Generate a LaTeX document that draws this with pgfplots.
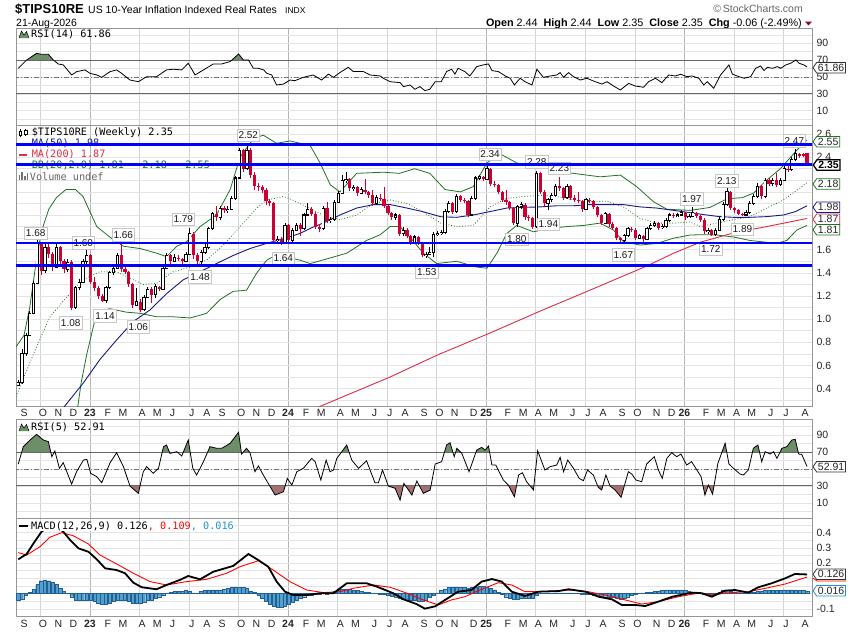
\documentclass[border=0pt]{standalone}
\usepackage{fontspec}
\setmainfont{Liberation Sans}
\newfontfamily\monof{DejaVu Sans Mono}
\usepackage{pgfplots}
\pgfplotsset{compat=1.18}
\usepackage{pgfplotstable}
\usetikzlibrary{shapes.symbols}

\definecolor{cred}{RGB}{204,0,51}
\definecolor{cnavy}{RGB}{25,25,135}
\definecolor{cma200}{RGB}{222,45,70}
\definecolor{cbb}{RGB}{34,115,34}
\definecolor{cgrid}{RGB}{228,228,228}
\definecolor{cqgrid}{RGB}{212,212,212}
\definecolor{cygrid}{RGB}{180,180,180}
\definecolor{cframe}{RGB}{150,150,150}
\definecolor{rsigreen}{RGB}{110,142,105}
\definecolor{rsired}{RGB}{165,112,112}
\definecolor{histfill}{RGB}{82,160,205}
\definecolor{histedge}{RGB}{35,95,145}
\definecolor{cblue}{RGB}{0,0,255}
\definecolor{macdblue}{RGB}{30,150,205}
\definecolor{cmaroon}{RGB}{150,0,50}

\pgfplotstableread{
i o h l c
0 0.43 0.47 0.42 0.45
1 0.45 0.74 0.44 0.70
2 0.70 0.88 0.68 0.86
3 0.86 1.07 0.85 1.05
4 1.05 1.33 1.04 1.31
5 1.31 1.68 1.30 1.65
6 1.65 1.67 1.38 1.42
7 1.42 1.65 1.40 1.62
8 1.62 1.65 1.53 1.56
9 1.56 1.58 1.42 1.45
10 1.45 1.66 1.44 1.62
11 1.62 1.63 1.47 1.50
12 1.50 1.52 1.40 1.43
13 1.43 1.52 1.41 1.49
14 1.49 1.51 1.08 1.10
15 1.10 1.29 1.09 1.27
16 1.27 1.35 1.25 1.32
17 1.32 1.52 1.31 1.50
18 1.50 1.60 1.48 1.55
19 1.55 1.56 1.30 1.32
20 1.32 1.36 1.24 1.27
21 1.27 1.29 1.17 1.20
22 1.20 1.22 1.15 1.16
23 1.16 1.29 1.14 1.27
24 1.27 1.42 1.26 1.40
25 1.40 1.47 1.38 1.44
26 1.44 1.57 1.43 1.55
27 1.55 1.66 1.41 1.43
28 1.43 1.46 1.39 1.41
29 1.41 1.42 1.28 1.30
30 1.30 1.31 1.10 1.12
31 1.12 1.27 1.11 1.15
32 1.15 1.17 1.06 1.08
33 1.08 1.21 1.07 1.19
34 1.19 1.28 1.18 1.26
35 1.26 1.28 1.14 1.21
36 1.21 1.30 1.18 1.28
37 1.28 1.29 1.24 1.26
38 1.26 1.46 1.25 1.44
39 1.44 1.57 1.43 1.55
40 1.55 1.56 1.47 1.50
41 1.50 1.56 1.49 1.53
42 1.53 1.55 1.50 1.52
43 1.52 1.53 1.48 1.50
44 1.50 1.58 1.49 1.56
45 1.56 1.79 1.55 1.74
46 1.74 1.75 1.52 1.55
47 1.55 1.57 1.48 1.50
48 1.50 1.60 1.48 1.58
49 1.58 1.65 1.56 1.62
50 1.62 1.80 1.61 1.78
51 1.78 1.93 1.77 1.91
52 1.91 1.98 1.85 1.88
53 1.88 1.98 1.86 1.96
54 1.96 1.98 1.92 1.94
55 1.94 1.98 1.92 1.95
56 1.95 2.06 1.94 2.04
57 2.04 2.24 2.03 2.22
58 2.22 2.48 2.21 2.46
59 2.46 2.47 2.27 2.30
60 2.30 2.52 2.29 2.46
61 2.46 2.48 2.22 2.25
62 2.25 2.27 2.12 2.15
63 2.15 2.18 2.11 2.14
64 2.14 2.16 2.09 2.12
65 2.12 2.13 1.99 2.02
66 2.02 2.04 1.98 2.00
67 2.00 2.01 1.66 1.68
68 1.68 1.72 1.66 1.69
69 1.69 1.71 1.64 1.66
70 1.66 1.83 1.65 1.81
71 1.81 1.82 1.66 1.68
72 1.68 1.79 1.67 1.77
73 1.77 1.83 1.76 1.81
74 1.81 1.83 1.72 1.78
75 1.78 1.92 1.77 1.90
76 1.90 2.00 1.89 1.95
77 1.95 1.97 1.89 1.91
78 1.91 1.93 1.78 1.80
79 1.80 1.82 1.75 1.78
80 1.78 1.98 1.77 1.96
81 1.96 2.01 1.83 1.85
82 1.85 1.88 1.83 1.86
83 1.86 2.03 1.85 2.01
84 2.01 2.11 2.00 2.09
85 2.09 2.25 2.08 2.20
86 2.20 2.27 2.18 2.21
87 2.21 2.22 2.11 2.13
88 2.13 2.16 2.11 2.14
89 2.14 2.15 2.06 2.09
90 2.09 2.14 2.08 2.12
91 2.12 2.21 2.08 2.10
92 2.10 2.11 2.05 2.07
93 2.07 2.12 1.98 2.00
94 2.00 2.07 1.99 2.05
95 2.05 2.08 2.02 2.04
96 2.04 2.14 1.96 1.98
97 1.98 1.99 1.90 1.92
98 1.92 1.93 1.86 1.88
99 1.88 1.92 1.86 1.90
100 1.90 1.91 1.72 1.74
101 1.74 1.80 1.72 1.77
102 1.77 1.79 1.70 1.72
103 1.72 1.73 1.64 1.66
104 1.66 1.73 1.65 1.71
105 1.71 1.72 1.64 1.66
106 1.66 1.67 1.54 1.55
107 1.55 1.58 1.53 1.56
108 1.56 1.62 1.55 1.58
109 1.58 1.75 1.54 1.73
110 1.73 1.76 1.72 1.74
111 1.74 1.77 1.73 1.75
112 1.75 1.95 1.74 1.93
113 1.93 2.02 1.92 2.00
114 2.00 2.01 1.91 1.93
115 1.93 2.08 1.92 2.06
116 2.06 2.07 2.01 2.03
117 2.03 2.05 2.00 2.02
118 2.02 2.03 1.88 1.90
119 1.90 2.06 1.89 2.04
120 2.04 2.24 2.03 2.22
121 2.22 2.25 2.20 2.23
122 2.23 2.24 2.19 2.21
123 2.21 2.34 2.20 2.30
124 2.30 2.31 2.15 2.17
125 2.17 2.19 2.14 2.16
126 2.16 2.17 2.08 2.10
127 2.10 2.11 2.01 2.03
128 2.03 2.12 1.99 2.01
129 2.01 2.02 1.94 1.96
130 1.96 1.97 1.81 1.83
131 1.83 1.99 1.80 1.97
132 1.97 2.01 1.95 1.99
133 1.99 2.00 1.86 1.88
134 1.88 1.90 1.85 1.87
135 1.87 1.88 1.78 1.80
136 1.80 2.28 1.79 2.26
137 2.26 2.27 2.08 2.10
138 2.10 2.12 1.98 2.00
139 2.00 2.05 1.94 2.03
140 2.03 2.09 2.01 2.07
141 2.07 2.17 2.06 2.15
142 2.15 2.23 2.11 2.13
143 2.13 2.14 2.03 2.05
144 2.05 2.17 2.04 2.15
145 2.15 2.16 2.03 2.05
146 2.05 2.07 2.01 2.03
147 2.03 2.10 2.00 2.02
148 2.02 2.03 1.93 1.95
149 1.95 2.05 1.94 2.03
150 2.03 2.05 2.00 2.02
151 2.02 2.03 1.95 1.97
152 1.97 1.98 1.88 1.90
153 1.90 1.91 1.81 1.83
154 1.83 1.93 1.82 1.91
155 1.91 1.92 1.80 1.82
156 1.82 1.84 1.77 1.79
157 1.79 1.80 1.68 1.70
158 1.70 1.71 1.665 1.68
159 1.68 1.74 1.67 1.72
160 1.72 1.80 1.71 1.78
161 1.78 1.80 1.75 1.77
162 1.77 1.79 1.68 1.70
163 1.70 1.74 1.69 1.72
164 1.72 1.73 1.67 1.69
165 1.69 1.80 1.68 1.78
166 1.78 1.83 1.77 1.81
167 1.81 1.85 1.80 1.83
168 1.83 1.84 1.77 1.79
169 1.79 1.82 1.78 1.80
170 1.80 1.87 1.79 1.85
171 1.85 1.92 1.84 1.90
172 1.90 1.92 1.87 1.89
173 1.89 1.92 1.88 1.90
174 1.90 1.94 1.89 1.92
175 1.92 1.93 1.86 1.88
176 1.88 1.91 1.87 1.89
177 1.89 1.97 1.88 1.92
178 1.92 1.93 1.87 1.89
179 1.89 1.90 1.84 1.86
180 1.86 1.87 1.74 1.76
181 1.76 1.79 1.74 1.77
182 1.77 1.78 1.72 1.73
183 1.73 1.79 1.72 1.77
184 1.77 1.88 1.76 1.86
185 1.86 2.01 1.85 1.99
186 1.99 2.13 1.98 2.10
187 2.10 2.11 1.94 1.96
188 1.96 1.97 1.92 1.94
189 1.94 1.95 1.90 1.91
190 1.91 1.92 1.89 1.90
191 1.90 1.94 1.89 1.92
192 1.92 2.02 1.91 2.00
193 2.00 2.08 1.99 2.06
194 2.06 2.18 2.05 2.15
195 2.15 2.16 2.04 2.06
196 2.06 2.22 2.05 2.20
197 2.20 2.22 2.15 2.17
198 2.17 2.22 2.15 2.20
199 2.20 2.26 2.14 2.16
200 2.16 2.22 2.15 2.20
201 2.20 2.32 2.19 2.30
202 2.30 2.33 2.27 2.29
203 2.29 2.40 2.28 2.38
204 2.38 2.47 2.37 2.43
205 2.43 2.44 2.39 2.41
206 2.43 2.44 2.40 2.41
207 2.44 2.44 2.35 2.35
}\candles

\pgfplotstableread{
i v
0 60.3
2.2 70.2
4.8 78.1
6.1 76.9
7.9 76.9
9.2 70.2
10.5 65.4
11.8 64.4
14 52.4
15.3 56.3
17.5 58.4
18.8 54.4
20.6 52.4
21.9 49.6
24.1 56.4
25.8 58.4
27.1 54.4
29.3 46.4
31.5 44.4
33.7 50.4
36.3 50.4
38.9 58.4
40.7 59.2
42.9 58.4
44.6 66.3
46.4 52.4
48.6 58.4
51.2 65.5
53.4 65.5
55.6 68.3
57.8 77.3
59.1 70.2
60.4 70.2
61.7 60.3
63 60.3
64.4 58.4
65.2 54.4
66.5 52.4
67.8 40.5
69.6 41.6
71.3 46.4
72.6 45.6
74.8 49.6
77.4 52.4
79.6 46.4
81.4 53.4
82.7 49.6
84.4 55.2
86.6 61.5
87.9 56.4
90.6 56.4
92.3 52.4
95 51.2
95.8 48.5
97.6 44.4
100.2 43.3
101.1 38.6
102.8 40.5
104.1 35.4
105.4 38.6
106.7 33.8
108 35.4
109.4 44.4
111 44.4
112.4 56.4
113.7 59.2
114.6 53.4
115.4 60.3
117.2 56.4
118.5 51.2
120.3 62.3
122 64.3
123.4 65.5
124.3 57.6
126 56.4
127.8 51.2
129.1 48.5
130.2 40.5
131.7 48.5
133 44.4
134.8 40.5
136.1 59.2
137.8 49.6
139.6 51.2
141.3 52.4
142.2 55.2
143.1 49.6
144.4 55.2
145.7 50.4
147.5 46.4
149.2 48.5
151.4 44.4
153.2 41.6
154.5 44.4
156.2 39.3
158 34.6
160.2 42.4
161.9 39.3
164.1 37.8
165.4 44.4
167.2 48.5
168.9 43.3
170.7 52.4
172.4 51.2
173.8 53.2
175.5 50.4
176.8 51.2
178.6 48.5
179.9 40.5
180.8 44.4
182.5 36.6
184.3 52.4
186.5 64.3
187.4 53.4
189.1 50.4
190.5 48.5
192.2 50.4
193.5 60.3
194.8 63.1
195.7 57.6
196.6 61.5
197.9 60.3
199.2 62.3
200.1 60.3
201.4 64.3
202.7 66.3
204.1 70.2
204.9 66.3
206.2 64.3
207 61.86
}\rsiA

\pgfplotstableread{
i v
0 55.9
1.3 76.4
3.1 84.3
4.8 91.0
6.6 84.3
7.9 82.3
8.8 64.6
9.6 71.3
10.8 50.8
11.8 57.5
14.0 32.2
15.3 46.8
17.1 60.6
18.0 61.4
19.0 44.9
20.6 40.9
21.9 33.8
24.1 57.5
25.8 69.3
27.6 52.8
29.3 29.9
31.5 21.2
32.8 46.8
33.7 52.8
35.4 44.9
36.8 50.8
38.1 76.4
38.9 78.4
39.8 68.5
41.6 70.5
42.9 65.4
44.6 84.3
45.8 50.8
46.8 42.9
48.6 58.7
50.3 76.4
52.1 74.5
53.4 74.5
55.6 80.4
57.8 93.4
58.6 67.7
59.9 74.5
60.8 69.3
62.1 46.8
63.0 53.6
64.3 42.9
65.6 33.0
67.4 19.2
69.6 23.2
70.6 38.9
71.8 31.0
73.1 46.8
74.8 50.8
77.0 62.6
77.9 58.7
79.4 37.0
80.8 60.6
81.8 46.8
82.7 48.8
83.6 62.6
86.2 78.4
87.5 60.6
89.3 50.8
91.4 59.7
93.6 33.8
94.5 33.8
95.6 48.8
97.1 29.9
98.9 27.2
100.2 13.3
101.2 33.0
103.3 19.2
104.6 35.8
106.3 21.2
108.1 25.2
109.4 55.9
111.1 58.7
112.4 78.4
113.3 81.1
114.4 64.6
115.1 74.5
116.4 68.5
118.3 46.8
120.3 72.4
121.6 75.6
122.5 72.4
123.4 77.1
124.3 54.7
125.3 54.7
127.3 37.0
128.6 31.0
130.2 17.3
131.3 42.9
132.3 45.6
133.4 35.0
135.2 25.2
136.3 71.6
138.2 48.8
139.6 52.8
141.3 54.7
142.2 63.8
143.1 46.8
144.2 60.6
145.7 50.8
147.2 38.9
148.3 36.2
149.4 48.8
150.9 42.9
152.2 28.4
153.1 25.2
154.2 42.9
155.3 29.9
156.6 25.2
158.2 16.6
160.1 46.8
161.0 44.1
162.1 37.0
163.6 35.0
164.9 55.9
166.9 64.6
168.0 48.8
169.0 38.9
170.2 62.6
171.5 69.3
172.8 64.6
173.9 67.7
175.4 54.7
176.7 58.7
178.1 48.8
179.2 40.9
180.2 19.2
181.1 31.0
182.2 20.4
183.6 56.7
185.5 80.4
186.5 56.0
187.7 50.8
189.4 44.1
190.3 42.9
191.6 48.8
192.9 74.5
194.1 78.4
195.1 58.7
196.0 70.5
197.3 67.7
198.2 70.5
199.1 62.6
200.4 74.5
201.7 76.4
203.0 84.3
203.9 85.1
204.8 67.7
205.6 67.3
207.0 52.91
}\rsiB

\pgfplotstableread{
i v
0 -0.04
1 -0.035
2 -0.01
3 0.01
4 0.03
5 0.06
6 0.085
7 0.09
8 0.085
9 0.075
10 0.06
11 0.035
12 0.015
13 0.002
14 -0.02
15 -0.04
16 -0.045
17 -0.045
18 -0.04
19 -0.045
20 -0.05
21 -0.06
22 -0.07
23 -0.07
24 -0.06
25 -0.05
26 -0.04
27 -0.04
28 -0.045
29 -0.05
30 -0.06
31 -0.065
32 -0.06
33 -0.055
34 -0.045
35 -0.04
36 -0.03
37 -0.02
38 -0.01
39 0.005
40 0.01
41 0.015
42 0.015
43 0.015
44 0.025
45 0.015
46 0.005
47 0.003
48 0.015
49 0.02
50 0.025
51 0.025
52 0.025
53 0.025
54 0.03
55 0.035
56 0.04
57 0.045
58 0.04
59 0.04
60 0.035
61 0.015
62 0.01
63 -0.01
64 -0.03
65 -0.05
66 -0.07
67 -0.08
68 -0.09
69 -0.09
70 -0.08
71 -0.07
72 -0.055
73 -0.04
74 -0.03
75 -0.02
76 -0.01
77 -0.01
78 -0.005
79 -0.003
80 0.003
81 -0.005
82 0.005
83 0.015
84 0.025
85 0.03
86 0.03
87 0.03
88 0.025
89 0.02
90 0.015
91 0.01
92 0.01
93 0.005
94 0.002
95 -0.005
96 -0.005
97 -0.01
98 -0.015
99 -0.02
100 -0.03
101 -0.035
102 -0.04
103 -0.045
104 -0.045
105 -0.05
106 -0.05
107 -0.045
108 -0.025
109 -0.01
110 0.005
111 0.02
112 0.03
113 0.04
114 0.045
115 0.045
116 0.04
117 0.04
118 0.035
119 0.04
120 0.045
121 0.05
122 0.05
123 0.045
124 0.035
125 0.025
126 0.01
127 -0.005
128 -0.02
129 -0.03
130 -0.035
131 -0.035
132 -0.03
133 -0.03
134 -0.03
135 -0.03
136 -0.01
137 0.002
138 0.002
139 0.002
140 0.003
141 0.005
142 0.005
143 0.005
144 0.005
145 0.005
146 0.002
147 0.002
148 -0.005
149 -0.005
150 -0.005
151 -0.01
152 -0.015
153 -0.015
154 -0.02
155 -0.025
156 -0.025
157 -0.03
158 -0.035
159 -0.03
160 -0.02
161 -0.01
162 -0.005
163 0.002
164 0.005
165 0.01
166 0.01
167 0.015
168 0.015
169 0.02
170 0.025
171 0.025
172 0.025
173 0.025
174 0.025
175 0.02
176 0.015
177 0.01
178 0.005
179 0.002
180 -0.005
181 -0.01
182 -0.01
183 0.002
184 0.01
185 0.02
186 0.02
187 0.015
188 0.01
189 0.005
190 0.005
191 0.005
192 0.01
193 0.01
194 0.015
195 0.015
196 0.02
197 0.02
198 0.02
199 0.02
200 0.02
201 0.025
202 0.025
203 0.025
204 0.025
205 0.02
206 0.02
207 0.016
}\hist

\pgfplotsset{
  panel/.style={
    scale only axis, width=796bp, xmin=-0.6, xmax=208.3,
    axis line style={draw=cframe, line width=0.8bp},
    major tick length=0pt, minor tick length=0pt,
    xtick={18.8,70.8,122.8,174.8}, xticklabels={},
    minor xtick={5.8,31.8,44.8,57.8,83.8,96.8,109.8,135.8,148.8,161.8,187.8,200.8},
    xmajorgrids, xminorgrids, ymajorgrids, yminorgrids,
    major x grid style={draw=cygrid, line width=0.7bp},
    minor x grid style={draw=cqgrid, line width=0.6bp},
    major y grid style={draw=cgrid, line width=0.6bp},
    minor y grid style={draw=cgrid, line width=0.6bp},
    yticklabel pos=right,
    ticklabel style={font=\fontsize{10.5bp}{12bp}\selectfont, text=black!85},
    /pgf/number format/assume math mode=true,
    yticklabel style={anchor=west, xshift=1bp},
  },
  months/.style={
    extra x ticks={1.5,6.5,10.5,14.5,18.8,23.5,27.5,32.5,36.5,40.5,45.5,49.5,53.5,58.5,62.5,66.5,70.8,75.5,79.5,84.5,88.5,93.5,97.5,101.5,106.5,110.5,114.5,119.5,122.8,128.5,132.5,136.5,140.5,145.5,149.5,153.5,158.5,162.5,167.5,171.5,174.8,180.5,184.5,188.5,192.5,197.5,201.5,206.5},
    extra x tick labels={S,O,N,D,\textbf{23},F,M,A,M,J,J,A,S,O,N,D,\textbf{24},F,M,A,M,J,J,A,S,O,N,D,\textbf{25},F,M,A,M,J,J,A,S,O,N,D,\textbf{26},F,M,A,M,J,J,A},
    extra x tick style={grid=none, major tick length=0pt},
  },
  upsel/.style={restrict expr to domain={\thisrow{c}-\thisrow{o}}{0:10}},
  dnsel/.style={restrict expr to domain={\thisrow{c}-\thisrow{o}}{-10:-0.0001}},
  ebar/.style 2 args={draw=none, mark=none, forget plot, error bars/.cd, y dir=plus, y explicit, error mark=none, error bar style={draw=#1, line width=#2}},
}

\tikzset{
  vtag/.style={signal, signal to=west, signal pointer angle=110, draw=#1, fill=white,
    line width=0.8bp, inner xsep=1.3bp, inner ysep=0.3bp, minimum height=10.5bp, anchor=west,
    font=\fontsize{10.5bp}{11bp}\selectfont, text=black!85},
  ext/.style={draw=black!22, fill=white, line width=0.6bp, inner xsep=1.5bp, inner ysep=0bp,
    minimum height=12.5bp, font=\fontsize{10bp}{11bp}\selectfont, text=black!90},
  lg/.style={anchor=west, inner sep=0pt, font=\monof\fontsize{10.2bp}{11bp}\selectfont},
}

\begin{document}
\begin{tikzpicture}
\useasboundingbox (0,0) rectangle (850bp,-633bp);
\fill[white] (0,0) rectangle (850bp,-633bp);

% ---------- header ----------
\node[anchor=base west, inner sep=0pt, font=\bfseries\fontsize{13bp}{14bp}\selectfont] at (15bp,-13.5bp) {\$TIPS10RE};
\node[anchor=base west, inner sep=0pt, font=\fontsize{10.5bp}{12bp}\selectfont] at (88bp,-13.5bp) {US 10-Year Inflation Indexed Real Rates};
\node[anchor=base west, inner sep=0pt, font=\fontsize{8.5bp}{10bp}\selectfont] at (285bp,-13.5bp) {INDX};
\node[anchor=base west, inner sep=0pt, font=\fontsize{10.5bp}{12bp}\selectfont] at (16bp,-26bp) {21-Aug-2026};
\node[anchor=base east, inner sep=0pt, font=\fontsize{10.5bp}{12bp}\selectfont, text=black!60] at (803bp,-12.5bp) {\textcopyright\,StockCharts.com};
\node[anchor=base east, inner sep=0pt, font=\fontsize{10.8bp}{12bp}\selectfont] at (802bp,-26bp) {\textbf{Open}~2.44~~\textbf{High}~2.44~~\textbf{Low}~2.35~~\textbf{Close}~2.35~~\textbf{Chg}~-0.06~(-2.49\%)};
\fill[cmaroon] (805bp,-21.5bp) -- (812bp,-21.5bp) -- (808.5bp,-25.5bp) -- cycle;

% ---------- RSI(14) ----------
\begin{axis}[panel, at={(16bp,-28.3bp)}, anchor=north west, height=96.7bp,
  ymin=-7, ymax=107.8, ytick={10,30,50,70,90}, minor ytick={0,20,40,60,80,100}]
\begin{scope}
\clip (axis cs:-1,70) rectangle (axis cs:210,130);
\addplot[fill=rsigreen, draw=none, forget plot] table[x=i,y=v]{\rsiA} -- (axis cs:207,0) -- (axis cs:0,0) -- cycle;
\end{scope}
\begin{scope}
\clip (axis cs:-1,-20) rectangle (axis cs:210,30);
\addplot[fill=rsired, draw=none, forget plot] table[x=i,y=v]{\rsiA} -- (axis cs:207,130) -- (axis cs:0,130) -- cycle;
\end{scope}
\addplot[black!60, line width=0.9bp, forget plot] coordinates {(-1,70) (210,70)};
\addplot[black!60, line width=0.9bp, forget plot] coordinates {(-1,30) (210,30)};
\addplot[black!55, line width=0.8bp, dash pattern=on 5bp off 2bp on 1bp off 2bp, forget plot] coordinates {(-1,50) (210,50)};
\addplot[black, line width=0.8bp] table[x=i,y=v]{\rsiA};
\end{axis}
\fill[rsigreen] (19bp,-38bp) -- (21.5bp,-31bp) -- (24bp,-35bp) -- (26.5bp,-31.5bp) -- (29bp,-38bp) -- cycle;
\draw[black, line width=0.5bp] (19bp,-38bp) -- (21.5bp,-31bp) -- (24bp,-35bp) -- (26.5bp,-31.5bp) -- (29bp,-38bp);
\node[lg] at (31bp,-34.5bp) {RSI(14) 61.86};

% ---------- main price panel ----------
\begin{axis}[panel, months, at={(16bp,-125bp)}, anchor=north west, height=281bp,
  ymin=0.249, ymax=2.678,
  ytick={0.4,0.6,0.8,1.0,1.2,1.4,1.6,1.8,2.0,2.2,2.4,2.6},
  yticklabels={0.4,0.6,0.8,1.0,1.2,1.4,1.6,,,,2.4,2.6},
  minor ytick={0.3,0.5,0.7,0.9,1.1,1.3,1.5,1.7,1.9,2.1,2.3,2.5}]
% legend text
\node[lg, text=black] at (axis cs:3.5,2.609) {\$TIPS10RE (Weekly) 2.35};
\draw[black, line width=0.5bp] (axis cs:0.5,2.575) -- (axis cs:0.5,2.645);
\draw[black, fill=white, line width=0.5bp] (axis cs:0.15,2.59) rectangle (axis cs:0.85,2.625);
\draw[black, line width=0.5bp] (axis cs:1.9,2.58) -- (axis cs:1.9,2.64);
\draw[black, fill=white, line width=0.5bp] (axis cs:1.55,2.60) rectangle (axis cs:2.25,2.63);
\draw[cnavy, line width=1.2bp] (axis cs:0.1,2.518) -- (axis cs:2.4,2.518);
\node[lg, text=cnavy] at (axis cs:3.5,2.518) {MA(50) 1.98};
\draw[cma200, line width=1.6bp] (axis cs:0.1,2.421) -- (axis cs:2.4,2.421);
\node[lg, text=cma200] at (axis cs:3.5,2.421) {MA(200) 1.87};
\draw[cbb, line width=1.2bp] (axis cs:0.1,2.328) -- (axis cs:2.4,2.328);
\node[lg, text=cbb] at (axis cs:3.5,2.328) {BB(20,2.0) 1.81 - 2.18 - 2.55};
\fill[black!55] (axis cs:0.1,2.20) rectangle (axis cs:0.5,2.25);
\fill[black!55] (axis cs:0.8,2.20) rectangle (axis cs:1.2,2.27);
\fill[black!55] (axis cs:1.5,2.20) rectangle (axis cs:1.9,2.24);
\fill[black!55] (axis cs:2.2,2.20) rectangle (axis cs:2.6,2.26);
\node[lg, text=black!60] at (axis cs:3.0,2.233) {Volume undef};
% Bollinger bands
\addplot[cbb, line width=0.8bp, forget plot] coordinates {(-0.6,0.76) (1.5,0.86) (3,1.10) (4.5,1.45) (6,1.75) (8,1.95) (10,2.05) (12.5,2.12) (15,2.12) (17,2.06) (18.5,1.95) (20.6,1.80) (24,1.71) (27.6,1.63) (32,1.61) (36.3,1.57) (38.9,1.54) (41.6,1.63) (44.2,1.67) (47.7,1.80) (52,1.90) (55.6,2.12) (58.2,2.40) (61.7,2.56) (64.3,2.59) (67.8,2.52) (71.3,2.54) (76.6,2.50) (79.2,2.35) (81.9,2.16) (84.4,2.10) (88.8,2.26) (95.8,2.27) (100,2.26) (104,2.30) (108,2.26) (112,2.12) (116,2.10) (119.4,2.145) (123,2.35) (126.4,2.43) (130.8,2.35) (135.2,2.32) (137.8,2.32) (142.2,2.27) (145.7,2.26) (152.7,2.23) (158,2.245) (162.3,2.145) (166.7,2.015) (170.2,1.95) (176.3,1.94) (181.5,1.965) (186,2.04) (190,2.05) (193,2.09) (196,2.19) (200,2.30) (204.3,2.46) (207,2.55)};
\addplot[cbb, line width=0.8bp, dotted, forget plot] coordinates {(-0.6,0.33) (4,0.70) (8.3,1.02) (12.7,1.19) (17,1.34) (21.4,1.41) (25.8,1.41) (30.2,1.34) (32.8,1.30) (36.3,1.31) (40.7,1.41) (45.1,1.45) (49.4,1.51) (53.8,1.64) (58.2,1.80) (62.6,1.96) (65.2,2.03) (69.6,2.06) (71.3,2.04) (73.9,2.00) (75.7,1.97) (80,1.90) (84.4,1.86) (88.8,1.90) (93.2,2.00) (97.6,2.03) (102,2.00) (106,1.93) (110.9,1.83) (115,1.80) (119.4,1.81) (123.8,1.97) (128.2,2.044) (132.5,2.06) (137,2.07) (141.3,2.06) (145.7,2.03) (150,2.015) (154.5,2.02) (158.8,1.97) (163.2,1.87) (167.6,1.83) (172,1.83) (176.3,1.84) (179,1.80) (183.3,1.83) (187.7,1.86) (192,1.886) (196.4,1.96) (200.8,2.03) (205,2.13) (207,2.18)};
\addplot[cbb, line width=0.8bp, forget plot] coordinates {(15,0.10) (16.5,0.45) (18,0.70) (20.6,1.06) (24,1.09) (28.4,1.06) (32,1.05) (36.3,1.02) (40.7,1.02) (45.1,1.01) (49.4,1.05) (53,1.17) (56.4,1.24) (59.9,1.25) (62.6,1.40) (65.2,1.51) (67.8,1.555) (71.3,1.53) (73.9,1.51) (76.6,1.48) (80.9,1.52) (86.2,1.57) (91.4,1.68) (95,1.73) (97.6,1.80) (100.2,1.80) (103,1.70) (106.3,1.57) (109.8,1.48) (115,1.50) (120.3,1.45) (123,1.44) (125.6,1.57) (128.2,1.74) (130.8,1.81) (135.2,1.755) (139.6,1.785) (144,1.80) (148.4,1.81) (152.7,1.83) (156.2,1.77) (158.8,1.67) (163.2,1.64) (167.6,1.655) (172,1.70) (176.3,1.727) (179.8,1.73) (183.3,1.727) (187.7,1.71) (192,1.68) (199,1.655) (201.7,1.68) (204.3,1.77) (207,1.81)};
% moving averages
\addplot[cnavy, line width=0.9bp, forget plot] coordinates {(11,0.20) (17,0.445) (21.4,0.65) (25.8,0.82) (30.2,0.98) (34.6,1.08) (38.9,1.22) (43.3,1.34) (47.7,1.41) (52,1.48) (56.4,1.55) (60.8,1.61) (65.2,1.655) (69.6,1.695) (73.9,1.74) (77,1.79) (80,1.83) (84.4,1.90) (88.8,1.96) (93.2,1.99) (97.6,1.99) (102,1.96) (106,1.93) (110.9,1.885) (115,1.88) (119.4,1.90) (123.8,1.93) (128.2,1.96) (132.5,1.966) (137,1.97) (141.3,1.98) (145.7,1.98) (150,1.99) (154.5,1.99) (158.8,1.99) (163.2,1.97) (167.6,1.96) (172,1.94) (176.3,1.92) (180.7,1.90) (184,1.886) (187.7,1.88) (192,1.88) (196.4,1.886) (200.8,1.90) (204,1.93) (207,1.98)};
\addplot[cma200, line width=0.9bp, forget plot] coordinates {(70,0.10) (79.5,0.25) (97.6,0.50) (110,0.69) (123.8,0.88) (137,1.07) (150,1.25) (165,1.46) (172,1.57) (179,1.665) (187.7,1.745) (196.4,1.80) (207,1.87)};
% candles: wicks
\addplot[upsel, ebar={black}{0.8bp}] table[x=i, y=l, y error expr=\thisrow{h}-\thisrow{l}] {\candles};
\addplot[dnsel, ebar={cred}{0.8bp}] table[x=i, y=l, y error expr=\thisrow{h}-\thisrow{l}] {\candles};
% candles: bodies
\addplot[upsel, ebar={black}{3.2bp}] table[x=i, y expr=\thisrow{o}-0.0045, y error expr=\thisrow{c}-\thisrow{o}+0.009] {\candles};
\addplot[upsel, ebar={white}{1.7bp}] table[x=i, y expr=\thisrow{o}+0.0045, y error expr=\thisrow{c}-\thisrow{o}-0.009] {\candles};
\addplot[dnsel, ebar={cred}{3.2bp}] table[x=i, y=c, y error expr=\thisrow{o}-\thisrow{c}] {\candles};
% extreme labels
\node[ext] at (axis cs:4.57,1.742) {1.68};
\node[ext] at (axis cs:17.06,1.660) {1.60};
\node[ext] at (axis cs:27.56,1.727) {1.66};
\node[ext] at (axis cs:43.31,1.863) {1.79};
\node[ext] at (axis cs:60.37,2.591) {2.52};
\node[ext] at (axis cs:13.75,0.969) {1.08};
\node[ext] at (axis cs:22.76,1.027) {1.14};
\node[ext] at (axis cs:31.50,0.934) {1.06};
\node[ext] at (axis cs:47.69,1.367) {1.48};
\node[ext] at (axis cs:69.55,1.526) {1.64};
\node[ext] at (axis cs:107.19,1.410) {1.53};
\node[ext] at (axis cs:123.81,2.425) {2.34};
\node[ext] at (axis cs:130.81,1.690) {1.80};
\node[ext] at (axis cs:136.06,2.361) {2.28};
\node[ext] at (axis cs:142.0,2.304) {2.23};
\node[ext] at (axis cs:139.11,1.820) {1.94};
\node[ext] at (axis cs:158.79,1.554) {1.67};
\node[ext] at (axis cs:176.74,2.038) {1.97};
\node[ext] at (axis cs:181.73,1.603) {1.72};
\node[ext] at (axis cs:185.93,2.196) {2.13};
\node[ext] at (axis cs:190.03,1.776) {1.89};
\node[ext] at (axis cs:203.67,2.542) {2.47};
% horizontal levels
\addplot[cblue, line width=2.4bp, forget plot] coordinates {(-1,2.508) (210,2.508)};
\addplot[cblue, line width=2.4bp, forget plot] coordinates {(-1,2.335) (210,2.335)};
\addplot[cblue, line width=2.4bp, forget plot] coordinates {(-1,1.660) (210,1.660)};
\addplot[cblue, line width=2.4bp, forget plot] coordinates {(-1,1.462) (210,1.462)};
\end{axis}

% ---------- RSI(5) ----------
\begin{axis}[panel, at={(16bp,-419.3bp)}, anchor=north west, height=99bp,
  ymin=-8.3, ymax=108.8, ytick={10,30,50,70,90}, yticklabels={10,30,,70,90},
  minor ytick={0,20,40,60,80,100}]
\begin{scope}
\clip (axis cs:-1,70) rectangle (axis cs:210,130);
\addplot[fill=rsigreen, draw=none, forget plot] table[x=i,y=v]{\rsiB} -- (axis cs:207,0) -- (axis cs:0,0) -- cycle;
\end{scope}
\begin{scope}
\clip (axis cs:-1,-20) rectangle (axis cs:210,30);
\addplot[fill=rsired, draw=none, forget plot] table[x=i,y=v]{\rsiB} -- (axis cs:207,130) -- (axis cs:0,130) -- cycle;
\end{scope}
\addplot[black!60, line width=0.9bp, forget plot] coordinates {(-1,70) (210,70)};
\addplot[black!60, line width=0.9bp, forget plot] coordinates {(-1,30) (210,30)};
\addplot[black!55, line width=0.8bp, dash pattern=on 5bp off 2bp on 1bp off 2bp, forget plot] coordinates {(-1,50) (210,50)};
\addplot[black, line width=0.8bp] table[x=i,y=v]{\rsiB};
\end{axis}
\fill[rsigreen] (19bp,-431bp) -- (21.5bp,-424bp) -- (24bp,-428bp) -- (26.5bp,-424.5bp) -- (29bp,-431bp) -- cycle;
\draw[black, line width=0.5bp] (19bp,-431bp) -- (21.5bp,-424bp) -- (24bp,-428bp) -- (26.5bp,-424.5bp) -- (29bp,-431bp);
\node[lg] at (31bp,-427.3bp) {RSI(5) 52.91};

% ---------- MACD ----------
\begin{axis}[panel, months, at={(16bp,-518.3bp)}, anchor=north west, height=98.4bp,
  ymin=-0.151, ymax=0.494, ytick={-0.1,0,0.1,0.2,0.3,0.4},
  yticklabels={-0.1,,,0.2,0.3,0.4},
  minor ytick={-0.05,0.05,0.15,0.25,0.35,0.45}]
\addplot[ybar, bar width=3.3bp, fill=histfill, draw=histedge, line width=0.35bp, forget plot] table[x=i,y=v]{\hist};
\addplot[red, line width=0.9bp, forget plot] coordinates {(0,0.269) (2.2,0.253) (5.7,0.308) (8.3,0.37) (11.4,0.40) (14.4,0.38) (18.4,0.326) (21.4,0.254) (25.8,0.195) (30.2,0.134) (34.6,0.079) (38.9,0.057) (44.2,0.079) (49.4,0.094) (54.7,0.134) (58.2,0.177) (63,0.216) (66.9,0.155) (71.3,0.079) (75.7,0.024) (80.1,0.007) (84.4,0.013) (87.9,0.035) (93.2,0.057) (97.6,0.042) (102,0.003) (106.3,-0.041) (110.2,-0.074) (113.7,-0.041) (117.2,-0.02) (121.6,0.029) (126,0.072) (129.5,0.057) (133,0.013) (136.5,0.013) (141.8,0.02) (145.2,0.024) (149.6,0.013) (154,-0.009) (159.3,-0.041) (163.6,-0.068) (168,-0.052) (173.2,-0.02) (178.4,0.003) (182.8,-0.005) (187.2,0.007) (191.6,0.013) (196,0.035) (201.2,0.063) (207,0.109)};
\addplot[black, line width=1.8bp, forget plot] coordinates {(0,0.225) (2.2,0.26) (4,0.33) (6.1,0.406) (8,0.44) (10,0.445) (11.8,0.406) (13.6,0.352) (15.8,0.297) (18.4,0.275) (20.6,0.225) (22.8,0.166) (25.8,0.155) (28,0.134) (30.2,0.072) (32.4,0.042) (36.3,0.029) (38.9,0.057) (42.4,0.09) (44.6,0.116) (47.7,0.094) (51.2,0.144) (56.4,0.182) (60.4,0.26) (63,0.22) (65.6,0.177) (67.8,0.079) (70,0.013) (72.2,-0.009) (75.7,-0.009) (79.2,0.003) (82.7,0.003) (86.2,0.068) (91.4,0.068) (94.1,0.046) (98.4,0.003) (101.1,-0.037) (104.5,-0.068) (106.7,-0.098) (109.4,-0.083) (112,-0.041) (115.4,0.013) (118.9,0.024) (121.6,0.079) (124.3,0.096) (126.9,0.079) (129.5,0.013) (133,-0.015) (136.5,0.013) (141.8,0.017) (144.4,0.029) (148.8,0.013) (152.3,-0.02) (155.8,-0.037) (158.4,-0.074) (161.9,-0.074) (164.5,-0.081) (168,-0.052) (171.6,-0.02) (176.8,0.007) (179.4,0.003) (182,-0.02) (185.5,0.02) (188.1,0.024) (191.6,0.007) (194.2,0.042) (197.7,0.068) (201.2,0.1) (203.8,0.129) (207,0.126)};
\end{axis}
\node[anchor=west, inner sep=0.5bp, fill=white, font=\monof\fontsize{10.2bp}{11bp}\selectfont] at (30.5bp,-526bp) {MACD(12,26,9) 0.126\textcolor{red}{, 0.109}\textcolor{macdblue}{, 0.016}};
\draw[black, line width=1.8bp] (19bp,-526bp) -- (28bp,-526bp);

% ---------- value tags ----------
\node[vtag=black!80] at (812.5bp,-67.7bp) {61.86};
\node[vtag=cbb] at (812.5bp,-141.7bp) {2.55};
\node[vtag=black, line width=1.3bp, font=\bfseries\fontsize{10.5bp}{11bp}\selectfont, text=black] at (812.5bp,-165bp) {2.35};
\node[vtag=cbb] at (812.5bp,-184bp) {2.18};
\node[vtag=cnavy] at (812.5bp,-207.3bp) {1.98};
\node[vtag=cma200] at (812.5bp,-219.3bp) {1.87};
\node[vtag=cbb] at (812.5bp,-229.8bp) {1.81};
\node[vtag=black!80] at (812.5bp,-466.7bp) {52.91};
\draw[red, line width=0.8bp] (813bp,-578bp) -- (817bp,-581bp) -- (846bp,-581bp);
\node[vtag=black!80] at (812.5bp,-574.3bp) {0.126};
\node[vtag=macdblue] at (812.5bp,-590.7bp) {0.016};
\end{tikzpicture}
\end{document}
